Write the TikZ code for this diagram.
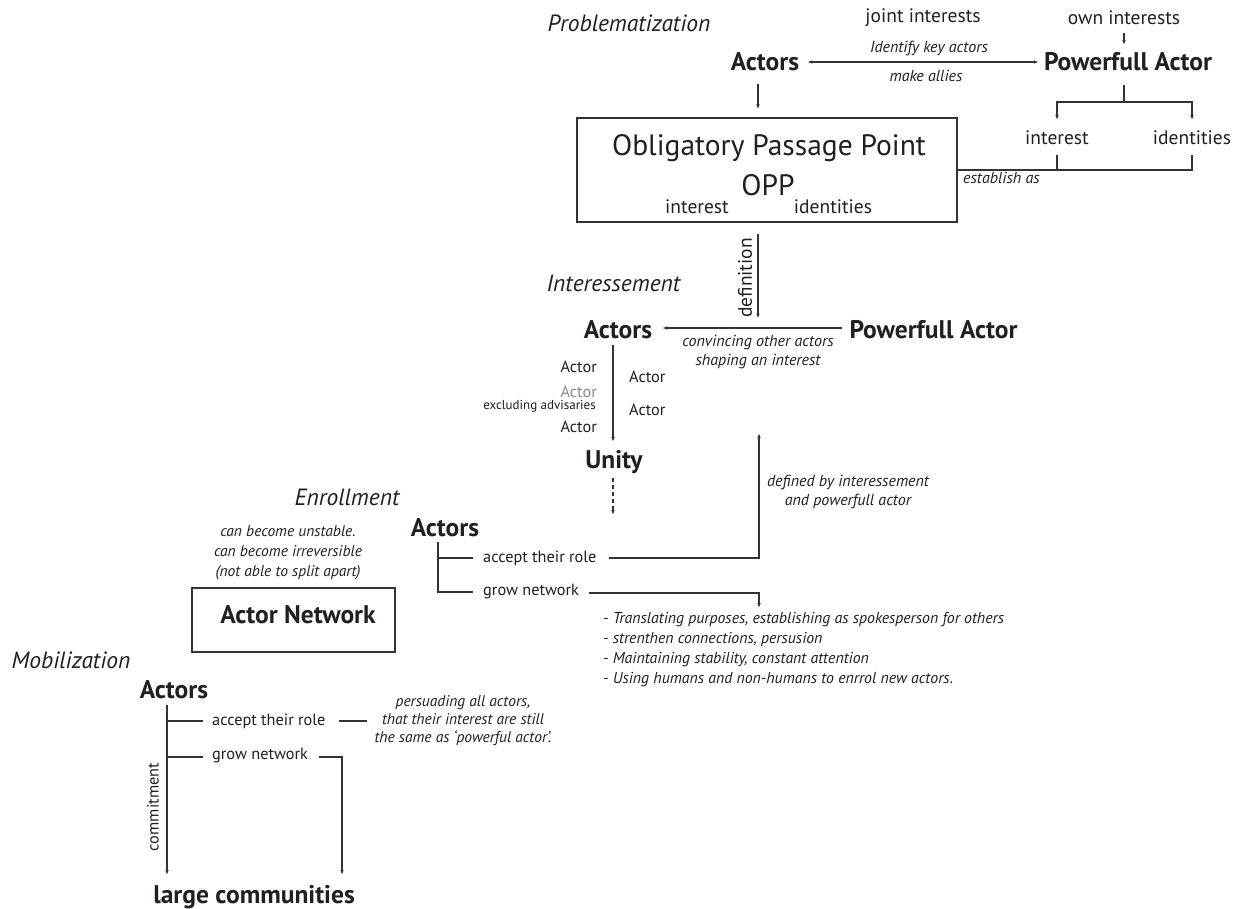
\documentclass[tikz,border=0pt]{standalone}
\usepackage{fontspec}
\setmainfont{PT Sans}
\usetikzlibrary{arrows.meta,calc}
\definecolor{ink}{HTML}{231F20}
\definecolor{lineclr}{HTML}{333333}
\definecolor{soft}{HTML}{8A8A8A}

\tikzset{
  lbl/.style={inner sep=0pt, text=ink},
  heading/.style={lbl, font=\fontsize{23.5}{28}\selectfont\itshape},
  bigbold/.style={lbl, font=\fontsize{25.5}{30}\selectfont\bfseries},
  oppfont/.style={lbl, font=\fontsize{29.5}{34}\selectfont},
  mid/.style={lbl, font=\fontsize{19.5}{23}\selectfont},
  small/.style={lbl, font=\fontsize{16.3}{19}\selectfont},
  tinylbl/.style={lbl, font=\fontsize{13}{15}\selectfont},
  note/.style={lbl, font=\fontsize{16}{19}\selectfont\itshape, align=center},
  frame/.style={draw=lineclr, line width=1.1pt, inner sep=0pt},
  conn/.style={draw=lineclr, line width=1.1pt},
  tip/.style={conn, -{Latex[length=5pt,width=3.6pt]}},
  twotip/.style={conn, {Latex[length=5pt,width=3.6pt]}-{Latex[length=5pt,width=3.6pt]}},
}

\begin{document}
\begin{tikzpicture}[x=1pt,y=-1pt]
\useasboundingbox (0,0) rectangle (1246,908);
\fill[white] (0,0) rectangle (1246,908);

% ---------- Problematization ----------
\node[heading] (tProb) at (629,23) {Problematization};
\node[mid] (joint) at (923,18) {joint interests};
\node[mid] (own) at (1124,18) {own interests};
\node[note] (idkey) at (929,48) {Identify key actors};
\node[bigbold] (act1) at (765,62) {Actors};
\node[bigbold] (pow1) at (1128,62) {Powerfull Actor};
\node[note] (allies) at (926,76) {make allies};

\draw[twotip] ($(act1.east)+(8,0)$) -- ($(pow1.west)+(-5,0)$);
\draw[tip] ($(own.center)+(0,15)$) -- ($(pow1.center)+(-4,-17)$);

\node[frame, minimum width=380pt, minimum height=104pt] (opp) at (767,170) {};
\node[oppfont] (oppT) at (769,148) {Obligatory Passage Point};
\node[oppfont] (oppA) at (768,185) {OPP};
\node[mid] (oppI) at (697,207) {interest};
\node[mid] (oppD) at (833,207) {identities};
\draw[tip] ($(act1.center)+(-7,22)$) -- ($(opp.north)+(-9,-8)$);

\coordinate (split) at (1124,102);
\node[mid] (int2) at (1057,138) {interest};
\node[mid] (idn2) at (1192,138) {identities};
\draw[conn] ($(pow1.center)+(-4,23)$) -- (split);
\draw[tip] (split) -| ($(int2.center)+(0,-18)$);
\draw[tip] (split) -| ($(idn2.center)+(0,-18)$);
\draw[conn] (opp.east) -| ($(idn2.center)+(0,17)$);
\draw[conn] ($(int2.center)+(0,17)$) -- (int2.center |- opp.east);
\node[note, anchor=west] (estab) at (963,178) {establish as};

% ---------- Interessement ----------
\node[heading] (tInt) at (613.5,283) {Interessement};
\node[mid, rotate=90] (defn) at (745,278) {definition};
\draw[tip] ($(opp.south)+(-9,11)$) -- ($(opp.south)+(-9,96)$);

\node[bigbold] (act2) at (618,330) {Actors};
\node[bigbold] (pow2) at (933.5,330) {Powerfull Actor};
\draw[tip] ($(pow2.west)+(-7,-2)$) -- ($(act2.east)+(10,-2)$);
\node[note] (conv) at (758,352) {convincing other actors\\shaping an interest};

\node[bigbold] (unity) at (614,462) {Unity};
\draw[tip] ($(act2.center)+(-5,15)$) -- ($(unity.center)+(-1,-20)$);

\node[small, anchor=east] (a1) at (597,367) {Actor};
\node[small, anchor=east, text=soft] (a2) at (597,392) {Actor};
\node[tinylbl, anchor=east] (excl) at (596,406) {excluding advisaries};
\node[small, anchor=east] (a3) at (597,427) {Actor};
\node[small, anchor=west] (a4) at (629,377) {Actor};
\node[small, anchor=west] (a5) at (629,410) {Actor};

\draw[tip, dash pattern=on 4pt off 3pt] ($(unity.center)+(-1,16)$) -- ($(unity.center)+(-1,53)$);

% ---------- Enrollment ----------
\node[heading] (tEnr) at (347,497) {Enrollment};
\node[bigbold] (act3) at (445,528) {Actors};
\coordinate (e1) at (438,558);
\coordinate (e2) at (438,592);
\draw[conn] ($(act3.center)+(-7,14)$) -- (e2) -- ++(35,0);
\draw[conn] (e1) -- ++(35,0);
\node[small, anchor=west] (acc3) at (483,558) {accept their role};
\node[small, anchor=west] (grow3) at (483,592) {grow network};

\node[note] (defd) at (848,491.5) {defined by interessement\\and powerfull actor};
\coordinate (upEnd) at (759,433);
\draw[tip] ($(acc3.east)+(12,0)$) -| (upEnd);
\coordinate (listTop) at (759,608);
\draw[tip] ($(grow3.east)+(10,1)$) -| (listTop);

\node[lbl, font=\fontsize{15.8}{19.7}\selectfont\itshape, align=left, anchor=west] (list) at (603,649.5)
  {- Translating purposes, establishing as spokesperson for others\\
   - strenthen connections, persusion\\
   - Maintaining stability, constant attention\\
   - Using humans and non-humans to enrrol new actors.};

\node[note, font=\fontsize{15.5}{20}\selectfont\itshape] (unst) at (288,553)
  {can become unstable.\\can become irreversible\\(not able to split apart)};
\node[frame, minimum width=203pt, minimum height=64pt] (anet) at (293.5,620) {};
\node[bigbold] (anetT) at (298,615) {Actor Network};

% ---------- Mobilization ----------
\node[heading] (tMob) at (71,660) {Mobilization};
\node[bigbold] (act4) at (174,690) {Actors};
\node[bigbold] (large) at (254,897) {large communities};
\coordinate (m1) at (167,721);
\coordinate (m2) at (167,757);
\draw[tip] ($(act4.center)+(-7,15)$) -- ($(large.center)+(-87,-22)$);
\draw[conn] (m1) -- ++(36,0);
\draw[conn] (m2) -- ++(36,0);
\node[small, anchor=west] (acc4) at (212,721) {accept their role};
\node[small, anchor=west] (grow4) at (212,756) {grow network};
\draw[conn] ($(acc4.east)+(13,0)$) -- ++(28,0);
\draw[tip] ($(grow4.east)+(11,1)$) -| ($(large.center)+(88,-22)$);
\node[note, font=\fontsize{15.5}{18}\selectfont\itshape] (pers) at (463,721)
  {persuading all actors,\\that their interest are still\\the same as ‘powerful actor’.};
\node[small, rotate=90] (commit) at (153,807) {commitment};
\end{tikzpicture}
\end{document}
